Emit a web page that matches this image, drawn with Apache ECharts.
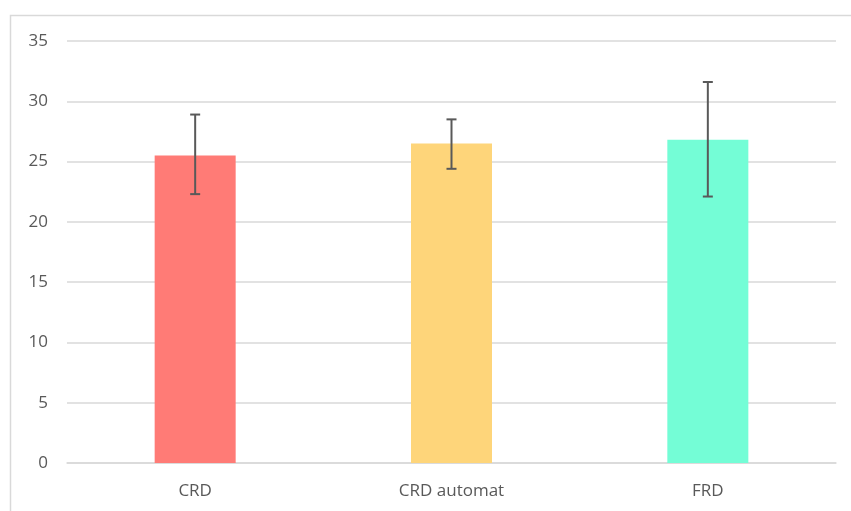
<!DOCTYPE html>
<html><head><meta charset="utf-8">
<script src="https://cdn.jsdelivr.net/npm/echarts@6/dist/echarts.min.js"></script>
<style>html,body{margin:0;padding:0;background:#fff}#c{width:851px;height:511px}</style>
</head><body><div id="c"></div>
<script>
const categories = ['CRD', 'CRD automat', 'FRD'];
const means = [25.5, 26.5, 26.8];
const errLow = [22.3, 24.4, 22.1];
const errHigh = [28.9, 28.5, 31.6];
const barColors = ['#FF7B76', '#FED57A', '#74FDD6'];

const chart = echarts.init(document.getElementById('c'));
chart.setOption({
  animation: false,
  grid: { left: 67, right: 15, top: 41, bottom: 48 },
  graphic: [{
    type: 'rect', shape: { x: 10.5, y: 15.5, width: 900, height: 600 },
    style: { fill: 'none', stroke: '#d9d9d9', lineWidth: 1.5 }, silent: true, z: -1
  }],
  xAxis: {
    type: 'category', data: categories,
    axisLine: { lineStyle: { color: '#d9d9d9', width: 1.5 } },
    axisTick: { show: false },
    axisLabel: { color: '#595959', fontSize: 17, fontFamily: 'Open Sans', margin: 20 }
  },
  yAxis: {
    type: 'value', min: 0, max: 35, interval: 5,
    axisLine: { show: false }, axisTick: { show: false },
    splitLine: { lineStyle: { color: '#d9d9d9', width: 1.5 } },
    axisLabel: { color: '#595959', fontSize: 17, fontFamily: 'Open Sans', margin: 19 }
  },
  series: [{
    type: 'bar', barWidth: '31.6%',
    data: means.map((v, i) => ({ value: v, itemStyle: { color: barColors[i] } }))
  }, {
    type: 'custom',
    data: categories.map((c, i) => [i, errLow[i], errHigh[i]]),
    renderItem: function (params, api) {
      const lo = api.coord([api.value(0), api.value(1)]);
      const hi = api.coord([api.value(0), api.value(2)]);
      const hw = 5;
      const st = { stroke: '#595959', lineWidth: 2 };
      return { type: 'group', children: [
        { type: 'line', shape: { x1: hi[0], y1: hi[1], x2: lo[0], y2: lo[1] }, style: st },
        { type: 'line', shape: { x1: hi[0] - hw, y1: hi[1], x2: hi[0] + hw, y2: hi[1] }, style: st },
        { type: 'line', shape: { x1: lo[0] - hw, y1: lo[1], x2: lo[0] + hw, y2: lo[1] }, style: st }
      ]};
    },
    z: 10
  }]
});
</script></body></html>
